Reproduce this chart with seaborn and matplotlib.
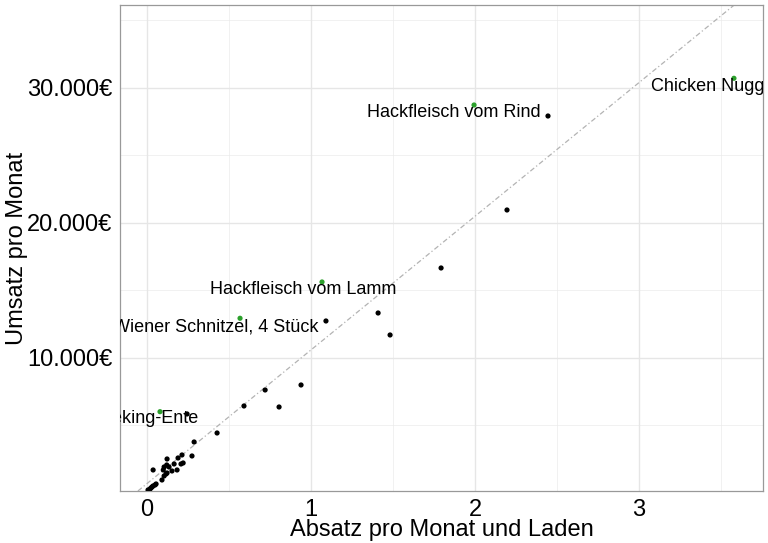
import matplotlib
matplotlib.use("Agg")
import matplotlib.pyplot as plt
import matplotlib.ticker as mticker
import seaborn as sns
import pandas as pd

# unlabelled products (sales per month and store, revenue per month)
absatz = [2.445, 2.195, 1.793, 1.409, 1.091, 1.482, 0.939, 0.720, 0.591, 0.805,
          0.244, 0.427, 0.287, 0.274, 0.213, 0.220, 0.207, 0.183, 0.122, 0.134,
          0.165, 0.189, 0.037, 0.104, 0.116, 0.104, 0.122, 0.091, 0.049, 0.030,
          0.018, 0.006, 0.012, 0.037, 0.024, 0.055, 0.152, 0.120, 0.099]
umsatz = [27925, 20963, 16667, 13333, 12741, 11704, 8000, 7630, 6444, 6370,
          5852, 4444, 3778, 2741, 2815, 2222, 2148, 1704, 2519, 1926,
          2148, 2593, 1704, 1926, 1407, 1259, 1481, 963, 593, 444,
          296, 222, 148, 519, 370, 667, 1630, 2074, 1704]

# highlighted products
namen = ["Chicken Nuggets", "Hackfleisch vom Rind", "Hackfleisch vom Lamm",
         "Wiener Schnitzel, 4 Stück", "Peking-Ente"]
absatz_hl = [3.579, 1.994, 1.067, 0.567, 0.079]
umsatz_hl = [30718, 28740, 15630, 12941, 6022]

# reference line
line_intercept = 700
line_slope = 9900

df = pd.DataFrame({
    "Absatz": absatz + absatz_hl,
    "Umsatz": umsatz + umsatz_hl,
    "hl": [False] * len(absatz) + [True] * len(absatz_hl),
})

sns.set_style("white")
plt.rcParams["font.family"] = ["Liberation Sans", "DejaVu Sans"]

fig = plt.figure(figsize=(7.68, 5.43), dpi=100)
ax = fig.add_axes([0.15625, 0.0958, 0.8372, 0.895])

xlim = (-0.165, 3.756)
ylim = (148, 36148)

# grid (theme_bw look)
for v in [0.5, 1.5, 2.5, 3.5]:
    ax.axvline(v, color="#ebebeb", lw=0.5, zorder=0)
for v in [5000, 15000, 25000, 35000]:
    ax.axhline(v, color="#ebebeb", lw=0.5, zorder=0)
for v in [0, 1, 2, 3]:
    ax.axvline(v, color="#e6e6e6", lw=1.0, zorder=0)
for v in [10000, 20000, 30000]:
    ax.axhline(v, color="#e6e6e6", lw=1.0, zorder=0)

ax.axline((0, line_intercept), slope=line_slope, color="#b3b3b3", lw=0.9,
          ls=(0, (4, 2, 1, 2)), zorder=1)

sns.scatterplot(data=df, x="Absatz", y="Umsatz", hue="hl",
                palette={False: "black", True: "#2ca02c"}, s=14,
                edgecolor="none", legend=False, ax=ax, zorder=3)

# label nudges (pixels), ggrepel-like
nudges = [(-14, -8), (-20, -7), (-19, -8), (-24, -9), (-10, -7)]
for name, x, y, (dx, dy) in zip(namen, absatz_hl, umsatz_hl, nudges):
    t = ax.annotate(name, (x, y), xytext=(dx, dy), textcoords="offset pixels",
                    ha="center", va="center", fontsize=13, color="black",
                    zorder=4)
    t.set_clip_on(True)
    t.set_clip_box(ax.bbox)

ax.set_xlim(*xlim)
ax.set_ylim(*ylim)
ax.set_xticks([0, 1, 2, 3])
ax.set_yticks([10000, 20000, 30000])
ax.yaxis.set_major_formatter(mticker.FuncFormatter(
    lambda v, p: f"{int(v):,}".replace(",", ".") + "€"))

for s in ax.spines.values():
    s.set_visible(True)
    s.set_color("#999999")
    s.set_linewidth(0.9)

ax.tick_params(axis="both", length=3.5, width=0.8, color="#333333",
               labelsize=17, labelcolor="black", pad=2)
ax.set_xlabel("Absatz pro Monat und Laden", fontsize=17, labelpad=-1,
              color="black")
ax.set_ylabel("Umsatz pro Monat", fontsize=17, labelpad=-1, color="black")

fig.savefig("out.png", dpi=100)
